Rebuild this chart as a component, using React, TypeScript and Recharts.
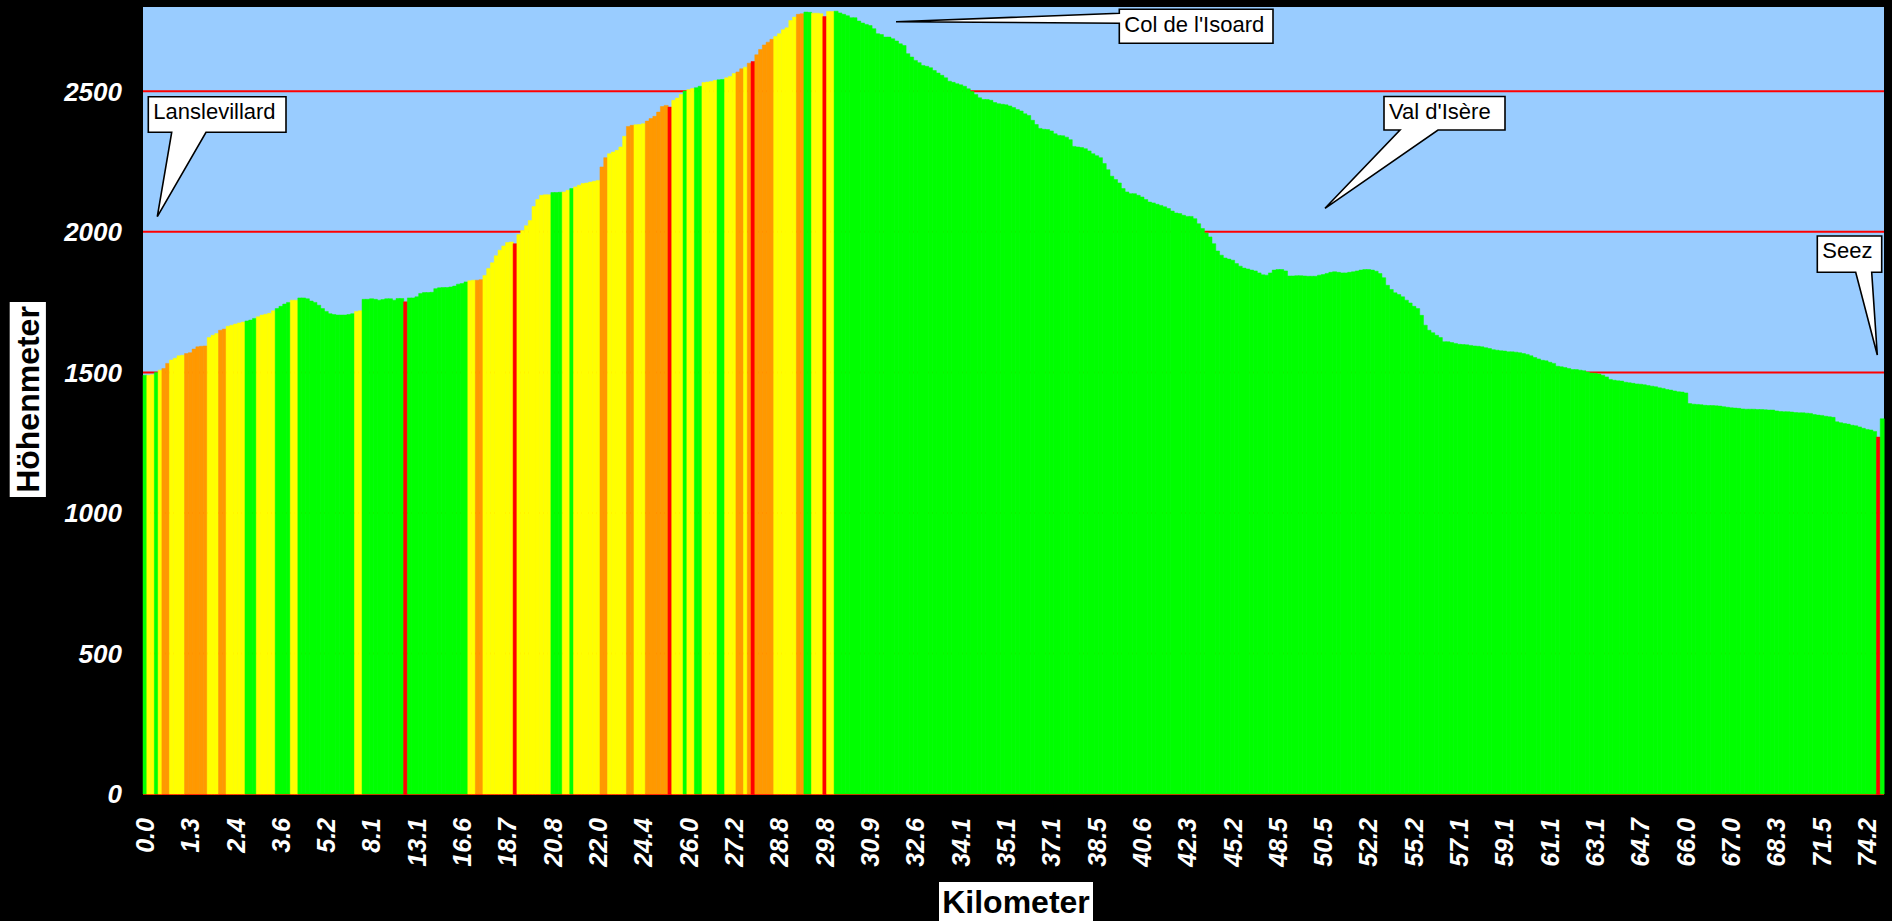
import React from 'react';
import { BarChart, Bar, XAxis, YAxis, CartesianGrid, Cell } from 'recharts';

// Kilometre labels shown on every 12th bar
const KM_LABELS = [
  '0.0', '1.3', '2.4', '3.6', '5.2', '8.1', '13.1', '16.6', '18.7', '20.8',
  '22.0', '24.4', '26.0', '27.2', '28.8', '29.8', '30.9', '32.6', '34.1', '35.1',
  '37.1', '38.5', '40.6', '42.3', '45.2', '48.5', '50.5', '52.2', '55.2', '57.1',
  '59.1', '61.1', '63.1', '64.7', '66.0', '67.0', '68.3', '71.5', '74.2',
];
const LABEL_EVERY = 12;

// Elevation (m) per bar – climb from Lanslevillard
const ELEV_A = [
  1490, 1490, 1492, 1500, 1508, 1514, 1532, 1544, 1550, 1559,
  1561, 1567, 1570, 1583, 1591, 1593, 1594, 1624, 1632, 1638,
  1650, 1654, 1664, 1668, 1672, 1676, 1679, 1683, 1686, 1692,
  1698, 1704, 1707, 1710, 1719, 1727, 1735, 1743, 1749, 1757,
  1757, 1765, 1765, 1762, 1754, 1749, 1739, 1727, 1717, 1709,
  1706, 1704, 1704, 1704, 1706, 1709, 1717, 1719, 1760, 1760,
  1762, 1760, 1757, 1759, 1762, 1762, 1757, 1763, 1763, 1751,
  1765, 1765, 1769, 1781, 1784, 1784, 1785, 1798, 1801, 1802,
  1802, 1804, 1807, 1814, 1816, 1822, 1826, 1828, 1828, 1830,
  1845, 1870, 1890, 1915, 1935, 1950, 1962, 1964, 1958, 1991,
  2005, 2022, 2040, 2090, 2115,
];
// upper climb to the col
const ELEV_B = [
  2130, 2132, 2132, 2140, 2140, 2141, 2142, 2148, 2154, 2160,
  2166, 2172, 2174, 2177, 2180, 2183, 2231, 2264, 2278, 2284,
  2290, 2302, 2340, 2375, 2379, 2381, 2382, 2385, 2394, 2403,
  2411, 2426, 2446, 2450, 2444, 2468, 2476, 2489, 2501, 2506,
  2510, 2513, 2518, 2531, 2533, 2535, 2539, 2541, 2542, 2548,
  2553, 2563, 2569, 2580, 2586, 2600, 2606, 2630, 2649, 2665,
  2675, 2685, 2695, 2705, 2719, 2726, 2752, 2764, 2774, 2776,
  2782, 2781, 2778, 2778, 2776, 2766, 2784, 2784,
];
// descent to Val d'Isère
const ELEV_C = [
  2785, 2779, 2774, 2769, 2762, 2762, 2750, 2743, 2738, 2734,
  2723, 2705, 2702, 2693, 2693, 2687, 2679, 2669, 2663, 2634,
  2622, 2610, 2602, 2592, 2589, 2584, 2574, 2565, 2557, 2548,
  2536, 2532, 2527, 2523, 2518, 2509, 2499, 2489, 2477, 2471,
  2471, 2468, 2460, 2456, 2454, 2452, 2448, 2442, 2435, 2430,
  2420, 2414, 2397, 2382, 2368, 2365, 2364, 2359, 2349, 2343,
  2342, 2337, 2328, 2304, 2302, 2300, 2296, 2288, 2278, 2271,
  2264, 2243, 2221, 2198, 2186, 2174, 2154, 2142, 2136, 2136,
  2130, 2124, 2115, 2106, 2103, 2098, 2094, 2089, 2083, 2074,
  2067, 2065, 2059, 2055,
];
// Val d'Isère and the valley
const ELEV_D = [
  2055, 2047, 2029, 2012, 1996, 1982, 1958, 1932, 1917, 1907,
  1903, 1899, 1887, 1878, 1871, 1868, 1864, 1861, 1854, 1847,
  1846, 1854, 1864, 1866, 1866, 1861, 1843, 1843, 1844, 1844,
  1843, 1842, 1842, 1842, 1846, 1848, 1852, 1856, 1858, 1856,
  1854, 1854, 1856, 1858, 1861, 1864, 1866, 1866, 1864, 1860,
  1852, 1837, 1810, 1795, 1783, 1777, 1769, 1757, 1747, 1735,
  1727, 1703, 1668, 1650, 1641, 1632, 1624, 1609, 1609, 1606,
  1603, 1600, 1599, 1598, 1596, 1594, 1593, 1591, 1588, 1585,
  1581, 1579, 1577, 1576, 1573, 1573, 1572, 1570, 1567, 1564,
  1559, 1553, 1548, 1543,
];
// down to Seez
const ELEV_E = [
  1541, 1536, 1532, 1522, 1520, 1517, 1514, 1510, 1510, 1508,
  1506, 1501, 1498, 1497, 1494, 1490, 1484, 1475, 1472, 1470,
  1469, 1465, 1463, 1461, 1459, 1458, 1456, 1453, 1451, 1449,
  1445, 1443, 1439, 1437, 1434, 1431, 1430, 1427, 1389, 1387,
  1386, 1385, 1383, 1382, 1382, 1381, 1380, 1378, 1376, 1374,
  1373, 1372, 1370, 1369, 1369, 1369, 1368, 1368, 1367, 1366,
  1366, 1363, 1361, 1360, 1360, 1359, 1357, 1356, 1356, 1355,
  1354, 1350, 1348, 1347, 1344, 1342, 1340, 1324, 1321, 1318,
  1316, 1312, 1310, 1306, 1301, 1297, 1295, 1290, 1270, 1335,
];

// Gradient class per bar: G green, Y yellow, O orange, R red
const GRADE_A =
  'GYYGY OO YYYY OOOOOO YYY OO YYYYY GGG YYYYY GGGG YY ' +
  'GGGGGGGGGGGGGGG YY GGGGGGGGGGG R GGGGGGGGGGGGGGGG YY OO YYYYYYYY R YYYYYY';
const GRADE_B =
  'YYY GGG Y Y G YYYYYYY OO YYYYY OO YYY OOOOOO R YYY G YY GG YYYY GG YYY OO Y O R OOOOO YYYYYY OO GG YYY R YY';
const GRADE_C =
  'GGGGGGGGGG GGGGGGGGGG GGGGGGGGGG GGGGGGGGGG GGGGGGGGGG ' +
  'GGGGGGGGGG GGGGGGGGGG GGGGGGGGGG GGGGGGGGGG GGGG';
const GRADE_D =
  'GGGGGGGGGG GGGGGGGGGG GGGGGGGGGG GGGGGGGGGG GGGGGGGGGG ' +
  'GGGGGGGGGG GGGGGGGGGG GGGGGGGGGG GGGGGGGGGG GGGG';
const GRADE_E =
  'GGGGGGGGGG GGGGGGGGGG GGGGGGGGGG GGGGGGGGGG GGGGGGGGGG ' +
  'GGGGGGGGGG GGGGGGGGGG GGGGGGGGGG GGGGGGGGRG';

const GRADE_COLORS: Record<string, string> = {
  G: '#00FF00',
  Y: '#FFFF00',
  O: '#FF9900',
  R: '#FF0000',
};

const Y_TICKS = [0, 500, 1000, 1500, 2000, 2500];
const Y_MAX = 2800;

const ELEVATIONS = [...ELEV_A, ...ELEV_B, ...ELEV_C, ...ELEV_D, ...ELEV_E];
const GRADES = (GRADE_A + GRADE_B + GRADE_C + GRADE_D + GRADE_E).replace(/\s/g, '').split('');
const data = ELEVATIONS.map((elev, i) => ({ i, elev, grade: GRADES[i] || 'G' }));

const FONT = 'Arial, "Liberation Sans", Helvetica, sans-serif';

const XTick = (props: any) => {
  const { x, y, payload } = props;
  const label = KM_LABELS[Math.round(payload.value / LABEL_EVERY)];
  return (
    <text
      x={x}
      y={y}
      transform={`rotate(-90, ${x}, ${y})`}
      textAnchor="end"
      dy="0.36em"
      fill="#FFFFFF"
      fontFamily={FONT}
      fontSize={25}
      fontWeight="bold"
      fontStyle="italic"
    >
      {label}
    </text>
  );
};

const YTick = (props: any) => {
  const { x, y, payload } = props;
  return (
    <text
      x={x}
      y={y}
      textAnchor="end"
      dy="0.36em"
      fill="#FFFFFF"
      fontFamily={FONT}
      fontSize={26}
      fontWeight="bold"
      fontStyle="italic"
    >
      {payload.value}
    </text>
  );
};

const Callout = ({ d, text, tx, ty }: { d: string; text: string; tx: number; ty: number }) => (
  <g>
    <path d={d} fill="#FFFFFF" stroke="#000000" strokeWidth={1.6} strokeLinejoin="miter" />
    <text x={tx} y={ty} fill="#000000" fontFamily={FONT} fontSize={22}>
      {text}
    </text>
  </g>
);

export default function App() {
  return (
    <div
      style={{
        position: 'absolute',
        left: 0,
        top: 0,
        width: 1892,
        height: 921,
        background: '#000000',
        overflow: 'hidden',
      }}
    >
      <BarChart
        width={1892}
        height={921}
        data={data}
        margin={{ top: 7, right: 8, bottom: 0, left: 0 }}
        barCategoryGap={0}
        barGap={0}
      >
        <CartesianGrid
          vertical={false}
          syncWithTicks
          stroke="#FF0000"
          strokeWidth={2}
          fill="#99CCFF"
          fillOpacity={1}
        />
        <XAxis
          dataKey="i"
          type="category"
          interval={LABEL_EVERY - 1}
          height={127}
          tickSize={0}
          tickMargin={24}
          axisLine={false}
          tickLine={false}
          tick={<XTick />}
        />
        <YAxis
          type="number"
          domain={[0, Y_MAX]}
          ticks={Y_TICKS}
          width={143}
          tickSize={0}
          tickMargin={21}
          axisLine={false}
          tickLine={false}
          tick={<YTick />}
        />
        <Bar dataKey="elev" isAnimationActive={false}>
          {data.map((d) => (
            <Cell
              key={d.i}
              fill={GRADE_COLORS[d.grade]}
              stroke={GRADE_COLORS[d.grade]}
              strokeWidth={0.5}
            />
          ))}
        </Bar>
      </BarChart>

      <svg
        width={1892}
        height={921}
        style={{ position: 'absolute', left: 0, top: 0, pointerEvents: 'none' }}
      >
        {/* axis titles */}
        <rect x={9.7} y={302} width={36.2} height={195} fill="#FFFFFF" />
        <text
          x={27.8}
          y={399.5}
          transform="rotate(-90, 27.8, 399.5)"
          textAnchor="middle"
          dy="0.36em"
          fill="#000000"
          fontFamily={FONT}
          fontSize={32}
          fontWeight="bold"
        >
          Höhenmeter
        </text>
        <rect x={939} y={882} width={154} height={39} fill="#FFFFFF" />
        <text
          x={1016}
          y={901.5}
          textAnchor="middle"
          dy="0.36em"
          fill="#000000"
          fontFamily={FONT}
          fontSize={32}
          fontWeight="bold"
        >
          Kilometer
        </text>

        {/* callouts */}
        <Callout
          d="M148.3,96.7 H286 V132.3 H206 L157.3,216.7 L171.7,132.3 H148.3 Z"
          text="Lanslevillard"
          tx={153.3}
          ty={119}
        />
        <Callout
          d="M1119.3,9.3 H1273 V43.3 H1119.3 V23.3 L896,21.7 L1119.3,13.3 Z"
          text="Col de l'Isoard"
          tx={1124.3}
          ty={31.5}
        />
        <Callout
          d="M1384,96.5 H1505 V130 H1438 L1325,208.3 L1400,130 H1384 Z"
          text="Val d'Isère"
          tx={1389}
          ty={118.5}
        />
        <Callout
          d="M1817.3,236 H1881.7 V272.3 H1871.7 L1877.3,355 L1855.7,272.3 H1817.3 Z"
          text="Seez"
          tx={1822.3}
          ty={257.7}
        />
      </svg>
    </div>
  );
}
